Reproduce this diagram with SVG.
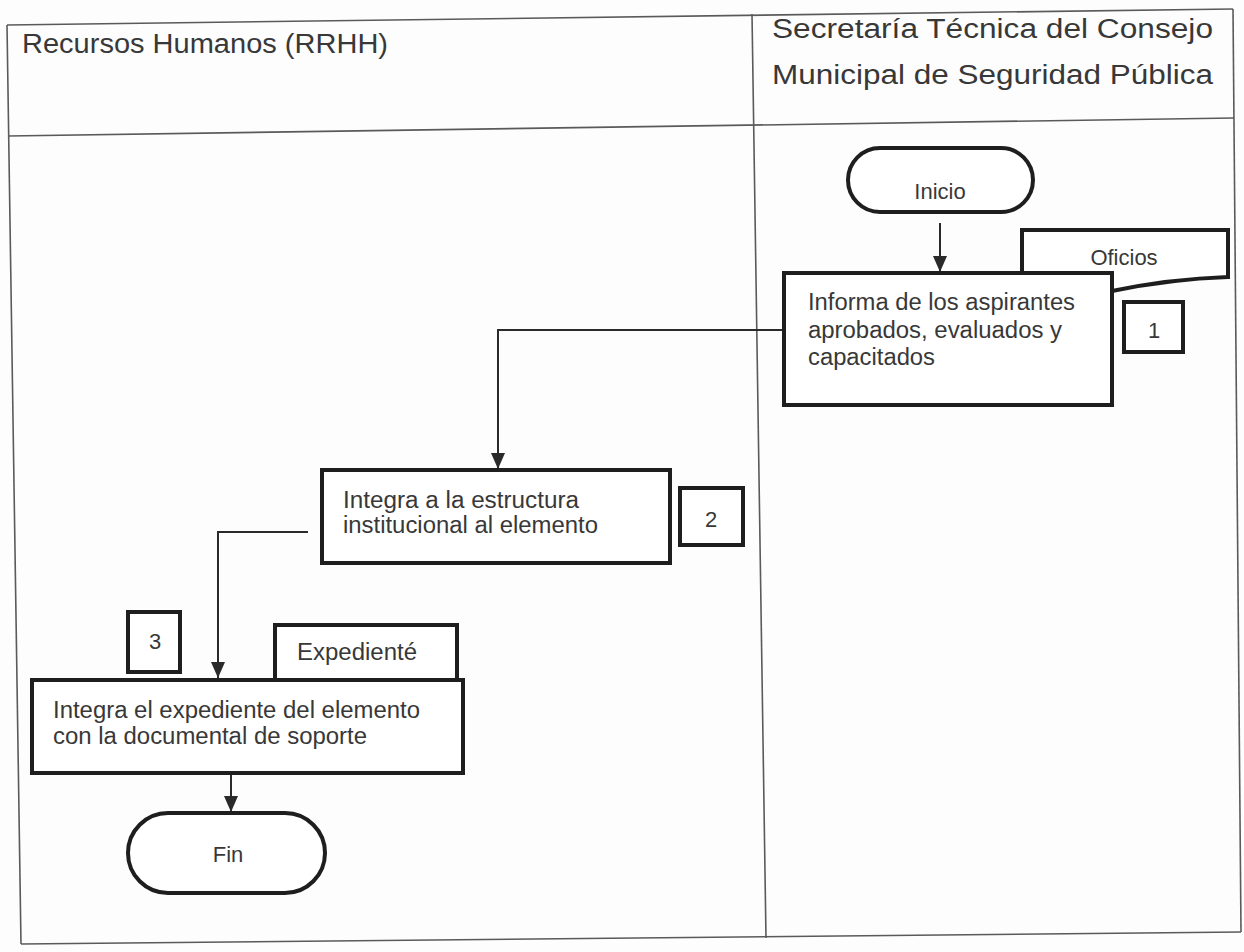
<svg xmlns="http://www.w3.org/2000/svg" width="1244" height="952" viewBox="0 0 1244 952">
<defs>
<style>
.tbl{stroke:#5a5a5a;stroke-width:1.6;fill:none}
.box{fill:#fff;stroke:#1e1e1e;stroke-width:4}
.conn{fill:none;stroke:#2a2a2a;stroke-width:2}
.t{font-family:"Liberation Sans",Arial,sans-serif;fill:#383838}
.h{font-size:27px}
.b{font-size:23px}
.s{font-size:22px}
</style>
<marker id="arr" viewBox="0 0 16 14" refX="16" refY="7" markerWidth="16" markerHeight="14" markerUnits="userSpaceOnUse" orient="auto">
<path d="M0,0 L16,7 L0,14 Z" fill="#2a2a2a"/>
</marker>
</defs>
<rect width="1244" height="952" fill="#fdfdfd"/>
<g id="table">
<line class="tbl" x1="7" y1="25" x2="1233" y2="9"/>
<line class="tbl" x1="8" y1="136" x2="1234" y2="118"/>
<line class="tbl" x1="21" y1="944" x2="1241" y2="932"/>
<line class="tbl" x1="7" y1="25" x2="21" y2="944"/>
<line class="tbl" x1="1233" y1="9" x2="1241" y2="932"/>
<line class="tbl" x1="752" y1="14" x2="766" y2="938"/>
<text class="t h" x="22" y="53" textLength="366" lengthAdjust="spacingAndGlyphs">Recursos Humanos (RRHH)</text>
<text class="t h" x="772" y="38" textLength="441" lengthAdjust="spacingAndGlyphs">Secretaría Técnica del Consejo</text>
<text class="t h" x="772" y="84" textLength="441" lengthAdjust="spacingAndGlyphs">Municipal de Seguridad Pública</text>
</g>
<g id="connectors">
<path class="conn" d="M940,223 V272" marker-end="url(#arr)"/>
<path class="conn" d="M786,330 H498 V469" marker-end="url(#arr)"/>
<path class="conn" d="M308,532 H218 V678" marker-end="url(#arr)"/>
<path class="conn" d="M231,773 V812" marker-end="url(#arr)"/>
</g>
<g id="inicio">
<rect class="box" x="848" y="148" width="185" height="64" rx="32"/>
<text class="t s" x="940" y="199" text-anchor="middle">Inicio</text>
</g>
<g id="oficios">
<path class="box" d="M1022,230 H1228 V277 Q1170,279 1112,291 Q1070,300 1022,296 Z"/>
<text class="t s" x="1124" y="265" text-anchor="middle">Oficios</text>
</g>
<g id="step1">
<rect class="box" x="784" y="273" width="328" height="132"/>
<text class="t b" x="808" y="310" textLength="267" lengthAdjust="spacingAndGlyphs">Informa de los aspirantes</text>
<text class="t b" x="808" y="338" textLength="254" lengthAdjust="spacingAndGlyphs">aprobados, evaluados y</text>
<text class="t b" x="808" y="365" textLength="127" lengthAdjust="spacingAndGlyphs">capacitados</text>
</g>
<g id="num1">
<rect class="box" x="1124" y="302" width="59" height="50"/>
<text class="t s" x="1154" y="338" text-anchor="middle">1</text>
</g>
<g id="step2">
<rect class="box" x="322" y="470" width="348" height="93"/>
<text class="t b" x="343" y="508" textLength="236" lengthAdjust="spacingAndGlyphs">Integra a la estructura</text>
<text class="t b" x="343" y="533" textLength="255" lengthAdjust="spacingAndGlyphs">institucional al elemento</text>
</g>
<g id="num2">
<rect class="box" x="680" y="488" width="63" height="57"/>
<text class="t s" x="711" y="527" text-anchor="middle">2</text>
</g>
<g id="num3">
<rect class="box" x="128" y="612" width="52" height="60"/>
<text class="t s" x="155" y="649" text-anchor="middle">3</text>
</g>
<g id="expediente">
<rect class="box" x="275" y="625" width="182" height="60"/>
<text class="t b" x="297" y="660" textLength="120" lengthAdjust="spacingAndGlyphs">Expedienté</text>
</g>
<g id="step3">
<rect class="box" x="32" y="680" width="431" height="93"/>
<text class="t b" x="53" y="718" textLength="367" lengthAdjust="spacingAndGlyphs">Integra el expediente del elemento</text>
<text class="t b" x="53" y="744" textLength="314" lengthAdjust="spacingAndGlyphs">con la documental de soporte</text>
</g>
<g id="fin">
<rect class="box" x="128" y="813" width="197" height="80" rx="40"/>
<text class="t s" x="228" y="862" text-anchor="middle">Fin</text>
</g>
</svg>
